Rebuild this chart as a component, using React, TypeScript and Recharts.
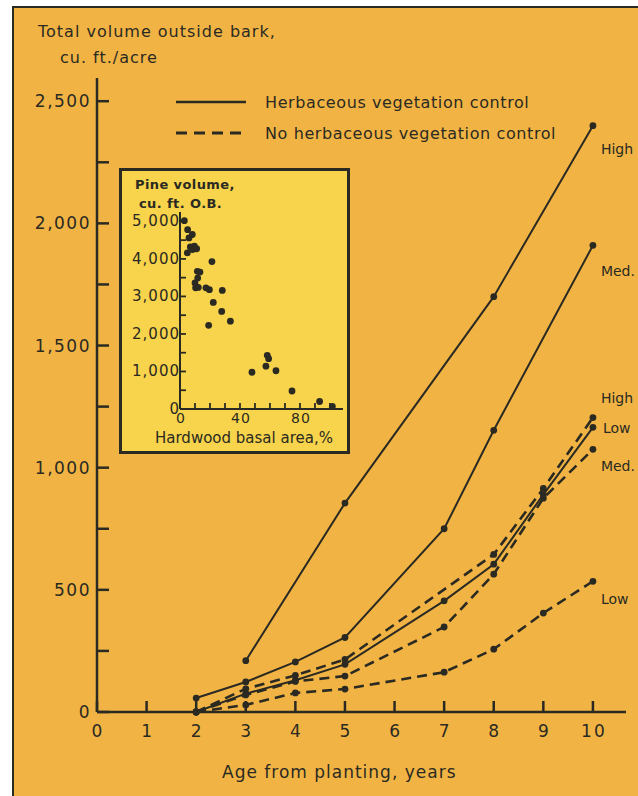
import React from 'react'
import { LineChart, Line, XAxis, YAxis, ScatterChart, Scatter } from 'recharts'

// Volume (cu. ft./acre) by age, herbaceous control (solid) vs none (dashed)
const HIGH_CONTROL = [
  { age: 3, vol: 210 },
  { age: 5, vol: 855 },
  { age: 8, vol: 1700 },
  { age: 10, vol: 2400 },
]
const MED_CONTROL = [
  { age: 2, vol: 57 },
  { age: 3, vol: 123 },
  { age: 4, vol: 205 },
  { age: 5, vol: 305 },
  { age: 7, vol: 750 },
  { age: 8, vol: 1153 },
  { age: 10, vol: 1910 },
]
const LOW_CONTROL = [
  { age: 2, vol: 0 },
  { age: 3, vol: 75 },
  { age: 4, vol: 130 },
  { age: 5, vol: 195 },
  { age: 7, vol: 455 },
  { age: 8, vol: 605 },
  { age: 9, vol: 890 },
  { age: 10, vol: 1165 },
]
const HIGH_NO_CONTROL = [
  { age: 2, vol: 0 },
  { age: 3, vol: 95 },
  { age: 4, vol: 150 },
  { age: 5, vol: 215 },
  { age: 8, vol: 645 },
  { age: 9, vol: 915 },
  { age: 10, vol: 1205 },
]
const MED_NO_CONTROL = [
  { age: 2, vol: 0 },
  { age: 3, vol: 70 },
  { age: 4, vol: 125 },
  { age: 5, vol: 147 },
  { age: 7, vol: 348 },
  { age: 8, vol: 564 },
  { age: 9, vol: 875 },
  { age: 10, vol: 1075 },
]
const LOW_NO_CONTROL = [
  { age: 2, vol: 0 },
  { age: 3, vol: 29 },
  { age: 4, vol: 78 },
  { age: 5, vol: 94 },
  { age: 7, vol: 163 },
  { age: 8, vol: 257 },
  { age: 9, vol: 405 },
  { age: 10, vol: 535 },
]

const AGE_TICKS = [0, 1, 2, 3, 4, 5, 6, 7, 8, 9, 10]
const VOL_TICKS = [0, 250, 500, 750, 1000, 1250, 1500, 1750, 2000, 2250, 2500]

// Inset: pine volume vs hardwood basal area
const HARDWOOD_PCT = [
  2.9, 5.1, 6, 8.2, 6.9, 4.9, 9.6, 11.1, 8.4, 21.3, 11.6, 13.3, 11.8, 10, 10.4, 12.2,
  17.3, 19.6, 28.2, 22.2, 27.8, 33.6, 19.1, 48, 57.3, 58.2, 59.1, 64, 74.7, 93.1, 101.6,
]
const PINE_VOL = [
  5020, 4780, 4560, 4650, 4320, 4160, 4340, 4270, 4250, 3930, 3670, 3650, 3490, 3360, 3230, 3240,
  3230, 3180, 3160, 2840, 2600, 2340, 2230, 980, 1140, 1430, 1340, 1020, 480, 200, 70,
]
const INSET_X_TICKS = [0, 10, 20, 30, 40, 50, 60, 70, 80, 90, 100]
const INSET_Y_TICKS = [0, 500, 1000, 1500, 2000, 2500, 3000, 3500, 4000, 4500, 5000]

const INK = '#2b2a22'
const ORANGE = '#f1b444'
const YELLOW = '#f7d44b'
const FONT = '"DejaVu Sans", sans-serif'

const SERIES = [
  { key: 'hc', data: HIGH_CONTROL, dashed: false, label: 'High', dx: 8, dy: 28 },
  { key: 'mc', data: MED_CONTROL, dashed: false, label: 'Med.', dx: 8, dy: 31 },
  { key: 'lc', data: LOW_CONTROL, dashed: false, label: 'Low', dx: 10, dy: 6 },
  { key: 'hn', data: HIGH_NO_CONTROL, dashed: true, label: 'High', dx: 8, dy: -15 },
  { key: 'mn', data: MED_NO_CONTROL, dashed: true, label: 'Med.', dx: 8, dy: 22 },
  { key: 'ln', data: LOW_NO_CONTROL, dashed: true, label: 'Low', dx: 8, dy: 23 },
]

function AgeTick({ x, y, payload }: any) {
  return (
    <g>
      <line x1={x} x2={x} y1={y} y2={y - 11} stroke={INK} strokeWidth={2.5} />
      <text
        x={x + 1}
        y={y + 25}
        textAnchor="middle"
        fill={INK}
        fontSize={17}
        letterSpacing={2}
        fontFamily={FONT}
      >
        {payload.value}
      </text>
    </g>
  )
}

function VolTick({ x, y, payload }: any) {
  const v = payload.value as number
  return (
    <g>
      <line x1={x} x2={x + 12} y1={y} y2={y} stroke={INK} strokeWidth={2.5} />
      {v % 500 === 0 && (
        <text
          x={x - 6}
          y={y + 6}
          textAnchor="end"
          fill={INK}
          fontSize={17}
          letterSpacing={1.5}
          fontFamily={FONT}
        >
          {v.toLocaleString('en-US')}
        </text>
      )}
    </g>
  )
}

function InsetXTick({ x, y, payload }: any) {
  const v = payload.value as number
  return (
    <g>
      <line x1={x} x2={x} y1={y} y2={y - 6} stroke={INK} strokeWidth={1.8} />
      {v % 40 === 0 && (
        <text
          x={x + 1}
          y={y + 14}
          textAnchor="middle"
          fill={INK}
          fontSize={14}
          letterSpacing={1}
          fontFamily={FONT}
        >
          {v}
        </text>
      )}
    </g>
  )
}

function InsetYTick({ x, y, payload }: any) {
  const v = payload.value as number
  return (
    <g>
      <line x1={x} x2={x + 6} y1={y} y2={y} stroke={INK} strokeWidth={1.8} />
      {v % 1000 === 0 && (
        <text
          x={x}
          y={y + 5}
          textAnchor="end"
          fill={INK}
          fontSize={15}
          letterSpacing={1}
          fontFamily={FONT}
        >
          {v.toLocaleString('en-US')}
        </text>
      )}
    </g>
  )
}

function endLabel(text: string, count: number, dx: number, dy: number) {
  return (props: any) => {
    if (props.index !== count - 1) return <g />
    return (
      <text x={props.x + dx} y={props.y + dy} fill={INK} fontSize={14} fontFamily={FONT}>
        {text}
      </text>
    )
  }
}

function Inset() {
  const points = HARDWOOD_PCT.map((h, i) => ({ h, v: PINE_VOL[i] }))
  return (
    <div
      style={{
        position: 'absolute',
        left: 119,
        top: 168,
        width: 231,
        height: 286,
        boxSizing: 'border-box',
        border: `3px solid ${INK}`,
        background: YELLOW,
      }}
    >
      <ScatterChart width={225} height={280} margin={{ top: 41, right: 4, bottom: 41, left: 57 }}>
        <XAxis
          type="number"
          dataKey="h"
          domain={[0, 108.7]}
          ticks={INSET_X_TICKS}
          height={1}
          tickSize={0}
          tickMargin={0}
          tick={<InsetXTick />}
          axisLine={{ stroke: INK, strokeWidth: 2 }}
          interval={0}
        />
        <YAxis
          type="number"
          dataKey="v"
          domain={[0, 5250]}
          ticks={INSET_Y_TICKS}
          width={1}
          tickSize={0}
          tickMargin={0}
          tick={<InsetYTick />}
          axisLine={{ stroke: INK, strokeWidth: 2 }}
          interval={0}
        />
        <Scatter
          data={points}
          fill={INK}
          isAnimationActive={false}
          shape={(p: any) => <circle cx={p.cx} cy={p.cy} r={3.4} fill={INK} />}
        />
      </ScatterChart>
      <div
        style={{
          position: 'absolute',
          left: 13,
          top: 4,
          fontFamily: FONT,
          fontSize: 13,
          fontWeight: 'bold',
          color: INK,
          lineHeight: '19px',
          letterSpacing: 0.4,
          whiteSpace: 'nowrap',
        }}
      >
        <div>Pine volume,</div>
        <div style={{ paddingLeft: 4 }}>cu. ft. O.B.</div>
      </div>
      <div
        style={{
          position: 'absolute',
          left: 33,
          top: 258,
          fontFamily: FONT,
          fontSize: 15,
          lineHeight: '18px',
          color: INK,
          whiteSpace: 'nowrap',
        }}
      >
        Hardwood basal area,%
      </div>
    </div>
  )
}

export default function App() {
  return (
    <div
      style={{
        position: 'absolute',
        left: 0,
        top: 0,
        width: 638,
        height: 796,
        background: '#ffffff',
        overflow: 'hidden',
      }}
    >
      <div
        style={{
          position: 'absolute',
          left: 12,
          top: 6,
          width: 640,
          height: 800,
          background: ORANGE,
          borderLeft: `2.5px solid ${INK}`,
          borderTop: `2.5px solid ${INK}`,
        }}
      />
      <div style={{ position: 'absolute', left: 0, top: 0 }}>
        <LineChart width={638} height={796} margin={{ top: 78, right: 12, bottom: 83, left: 96 }}>
          <XAxis
            type="number"
            dataKey="age"
            domain={[0, 10.667]}
            ticks={AGE_TICKS}
            height={1}
            tickSize={0}
            tickMargin={0}
            tick={<AgeTick />}
            axisLine={{ stroke: INK, strokeWidth: 2.5 }}
            interval={0}
            allowDuplicatedCategory={false}
          />
          <YAxis
            type="number"
            dataKey="vol"
            domain={[0, 2595]}
            ticks={VOL_TICKS}
            width={1}
            tickSize={0}
            tickMargin={0}
            tick={<VolTick />}
            axisLine={{ stroke: INK, strokeWidth: 2.5 }}
            interval={0}
          />
          {SERIES.map((s) => (
            <Line
              key={s.key}
              data={s.data}
              dataKey="vol"
              type="linear"
              stroke={INK}
              strokeWidth={s.dashed ? 2.6 : 2}
              strokeDasharray={s.dashed ? '10 6' : undefined}
              dot={{ r: 3.4, fill: INK, stroke: INK, strokeWidth: 0 }}
              activeDot={false}
              isAnimationActive={false}
              label={endLabel(s.label, s.data.length, s.dx, s.dy)}
            />
          ))}
        </LineChart>
      </div>
      {/* axis titles */}
      <div
        style={{
          position: 'absolute',
          left: 38,
          top: 19,
          fontFamily: FONT,
          fontSize: 16,
          letterSpacing: 1,
          color: INK,
          lineHeight: '26px',
          whiteSpace: 'nowrap',
        }}
      >
        <div>Total volume outside bark,</div>
        <div style={{ paddingLeft: 22 }}>cu. ft./acre</div>
      </div>
      <div
        style={{
          position: 'absolute',
          left: 222,
          top: 762,
          fontFamily: FONT,
          fontSize: 17,
          letterSpacing: 1,
          color: INK,
          whiteSpace: 'nowrap',
        }}
      >
        Age from planting, years
      </div>
      {/* legend */}
      <svg style={{ position: 'absolute', left: 0, top: 0 }} width={638} height={160}>
        <line x1={176} x2={246} y1={102} y2={102} stroke={INK} strokeWidth={2.5} />
        <line x1={176} x2={246} y1={133} y2={133} stroke={INK} strokeWidth={2.8} strokeDasharray="11 7" />
        <text x={265} y={108} fill={INK} fontSize={16} letterSpacing={0.6} fontFamily={FONT}>
          Herbaceous vegetation control
        </text>
        <text x={265} y={139} fill={INK} fontSize={16} letterSpacing={0.6} fontFamily={FONT}>
          No herbaceous vegetation control
        </text>
      </svg>
      <Inset />
    </div>
  )
}
